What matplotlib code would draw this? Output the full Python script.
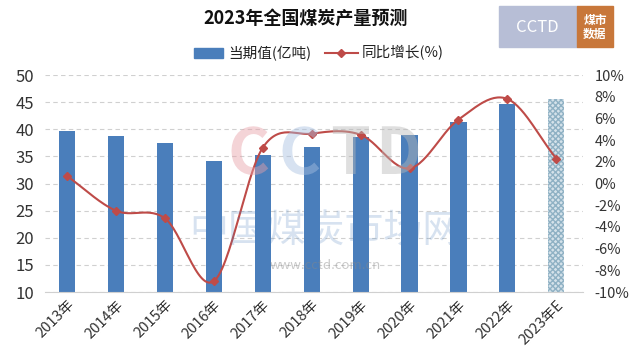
import numpy as np
import matplotlib.pyplot as plt
from matplotlib.patches import Rectangle

plt.rcParams['font.family'] = ['Noto Sans CJK SC', 'DejaVu Sans']

# 数据
years = ['2013年', '2014年', '2015年', '2016年', '2017年', '2018年',
         '2019年', '2020年', '2021年', '2022年', '2023年E']
output = [39.7, 38.7, 37.5, 34.1, 35.2, 36.8, 38.5, 39.0, 41.3, 44.6, 45.6]
growth = [0.7, -2.5, -3.2, -9.0, 3.3, 4.6, 4.5, 1.4, 5.9, 7.8, 2.3]

bar_color = '#4a7ebb'
line_color = '#be4b48'

# Curva suavizada (Catmull-Rom), como la línea suavizada de Excel
def smooth(xs, ys, n=30):
    xs = np.asarray(xs, float)
    ys = np.asarray(ys, float)
    px = np.concatenate([[2 * xs[0] - xs[1]], xs, [2 * xs[-1] - xs[-2]]])
    py = np.concatenate([[2 * ys[0] - ys[1]], ys, [2 * ys[-1] - ys[-2]]])
    ox, oy = [], []
    for i in range(1, len(px) - 2):
        t = np.linspace(0, 1, n)
        for p, o in ((px, ox), (py, oy)):
            p0, p1, p2, p3 = p[i - 1], p[i], p[i + 1], p[i + 2]
            o.extend(0.5 * (2 * p1 + (-p0 + p2) * t
                            + (2 * p0 - 5 * p1 + 4 * p2 - p3) * t ** 2
                            + (-p0 + 3 * p1 - 3 * p2 + p3) * t ** 3))
    return np.array(ox), np.array(oy)

fig = plt.figure(figsize=(6.37, 3.61), dpi=100)
ax = fig.add_axes([0.0706, 0.191, 0.845, 0.601])
ax2 = ax.twinx()

x = np.arange(len(years))
ax.bar(x[:-1], output[:-1], width=0.33, color=bar_color, zorder=2)
ax.bar(x[-1], output[-1], width=0.33, facecolor='#d5e2ea',
       edgecolor='#8fb1c4', hatch='xxxxxx', linewidth=0, zorder=2)

ax.set_ylim(10, 50)
ax.set_yticks(np.arange(10, 51, 5))
ax.set_xlim(-0.45, len(years) - 0.45)
ax.yaxis.grid(True, linestyle=(0, (4, 3)), color='#d0d0d0', linewidth=0.8)
ax.set_axisbelow(True)
for s in ['top', 'right', 'left']:
    ax.spines[s].set_visible(False)
ax.spines['bottom'].set_color('#d0d0d0')
ax.tick_params(axis='y', length=0, labelsize=12, colors='#333333', pad=8)
ax.tick_params(axis='x', length=0, labelsize=10.5, colors='#333333', pad=4)
ax.set_xticks(x)
ax.set_xticklabels(years, rotation=45, ha='right', rotation_mode='anchor')

sx, sy = smooth(x, growth)
ax2.plot(sx, sy, color=line_color, linewidth=1.5, zorder=3)
ax2.plot(x, growth, linestyle='none', marker='D', markersize=4.5,
         color=line_color, zorder=4)
ax2.set_ylim(-10, 10)
ax2.set_yticks(np.arange(-10, 11, 2))
ax2.set_yticklabels([f'{v}%' for v in range(-10, 11, 2)])
ax2.tick_params(axis='y', length=0, labelsize=10.5, colors='#333333', pad=8)
for s in ax2.spines.values():
    s.set_visible(False)

# 水印
fig.text(0.51, 0.36, '中国煤炭市场网', fontsize=28, color='#4a7ebb',
         alpha=0.22, ha='center', va='center', zorder=0)
fig.text(0.51, 0.265, 'www.cctd.com.cn', fontsize=9.5, color='#888888',
         alpha=0.45, ha='center', va='center', zorder=0)
for lx, ch, col in [(0.39, 'C', '#e8a0a8'), (0.47, 'C', '#a8c0e0'),
                    (0.55, 'T', '#b8b8b8'), (0.625, 'D', '#b8b8b8')]:
    fig.text(lx, 0.57, ch, fontsize=46, color=col, alpha=0.45,
             ha='center', va='center', fontweight='bold', zorder=0)

# 标题与图例
fig.text(0.48, 0.95, '2023年全国煤炭产量预测', fontsize=13, fontweight='bold',
         ha='center', va='center', color='#111111')
fig.patches.append(Rectangle((0.305, 0.84), 0.045, 0.028, transform=fig.transFigure,
                             color=bar_color))
fig.text(0.358, 0.853, '当期值(亿吨)', fontsize=10.5, va='center', color='#222222')
fig.lines.append(plt.Line2D([0.51, 0.562], [0.853, 0.853], transform=fig.transFigure,
                            color=line_color, linewidth=1.5))
fig.lines.append(plt.Line2D([0.536], [0.853], transform=fig.transFigure,
                            color=line_color, marker='D', markersize=4.5))
fig.text(0.568, 0.853, '同比增长(%)', fontsize=10.5, va='center', color='#222222')

# 右上角标志
fig.patches.append(Rectangle((0.783, 0.870), 0.123, 0.113, transform=fig.transFigure,
                             color='#b7bed6'))
fig.patches.append(Rectangle((0.906, 0.870), 0.056, 0.113, transform=fig.transFigure,
                             color='#c8773a'))
fig.text(0.844, 0.925, 'CCTD', fontsize=12, color='white', ha='center', va='center')
fig.text(0.934, 0.925, '煤市\n数据', fontsize=8.5, color='white', ha='center',
         va='center', linespacing=1.1, fontweight='bold')

fig.savefig('out.png', dpi=100)
